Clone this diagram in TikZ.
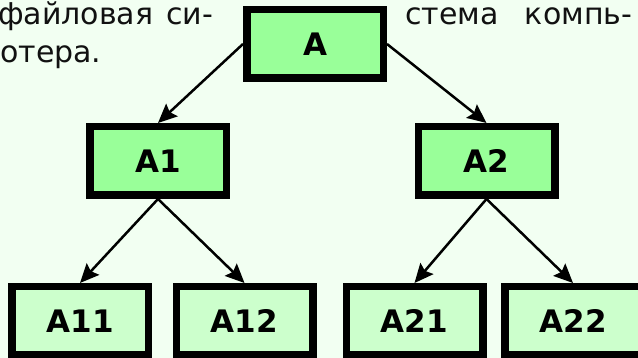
\documentclass[tikz,border=0pt]{standalone}
\usepackage{fontspec}
\setmainfont{DejaVu Sans}
\usetikzlibrary{arrows.meta}
\definecolor{bg}{HTML}{F2FFF2}
\definecolor{topfill}{HTML}{99FF99}
\definecolor{lowfill}{HTML}{CCFFCC}
\definecolor{ink}{HTML}{111111}
\begin{document}
\begin{tikzpicture}[x=1pt,y=-1pt,
  box/.style={draw=black, line width=7.5pt, minimum width=136.5pt, minimum height=68.5pt, inner sep=0pt,
    font=\fontsize{31}{31}\selectfont\bfseries},
  upper/.style={box, fill=topfill},
  lower/.style={box, fill=lowfill},
  conn/.style={line width=2.5pt, -{Stealth[length=19pt,width=17pt,inset=3pt]}},
  txt/.style={inner sep=0pt, anchor=base west, text=ink, font=\fontsize{30}{30}\selectfont}]
\fill[bg] (0,0) rectangle (638,358);
\useasboundingbox (0,0) rectangle (638,358);
% text
\node[txt] (t1) at (-2,25) {\makebox[215pt][s]{файловая си-}};
\node[txt] (t2) at (0,63) {отера.};
\node[txt] (t3) at (405,25) {\makebox[227pt][s]{стема компь-}};
% boxes
\node[upper] (A)   at (315,44)   {A};
\node[upper] (A1)  at (158,161)  {A1};
\node[upper] (A2)  at (486.5,161) {A2};
\node[lower] (A11) at (80,321)   {A11};
\node[lower] (A12) at (244.5,321) {A12};
\node[lower] (A21) at (414.5,321) {A21};
\node[lower] (A22) at (573,321)  {A22};
% connectors
\draw[conn] (A.west) -- (A1.north);
\draw[conn] (A.east) -- (A2.north);
\draw[conn] (A1.south) -- (A11.north);
\draw[conn] (A1.south) -- (A12.north);
\draw[conn] (A2.south) -- (A21.north);
\draw[conn] (A2.south) -- (A22.north);
\end{tikzpicture}
\end{document}
